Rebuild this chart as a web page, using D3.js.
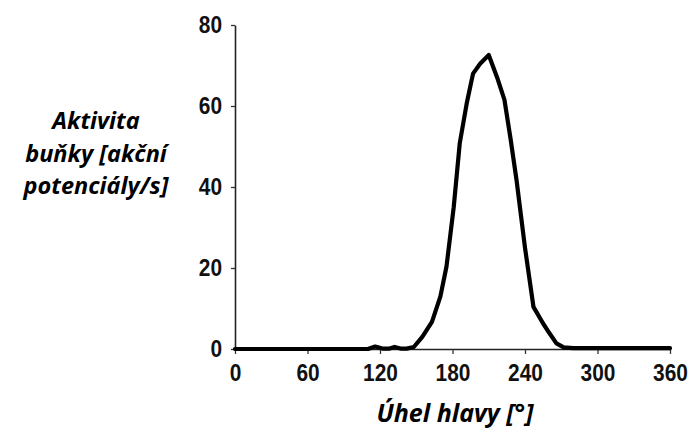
<!DOCTYPE html>
<html><head><meta charset="utf-8">
<script src="https://cdn.jsdelivr.net/npm/d3@7"></script>
<style>body{margin:0;background:#fff;} svg{display:block;}</style>
</head><body>
<svg id="chart" width="695" height="432"></svg>
<script>
const angles = [0, 20, 40, 60, 80, 100, 110, 116, 122, 128, 132, 137, 142, 148, 155, 163, 170, 175, 181, 186, 192, 197, 203, 210, 217, 223, 228, 233, 240, 247, 255, 260, 266, 272, 280, 300, 320, 340, 360];
const activity = [0, 0, 0, 0, 0, 0, 0, 0.6, 0.1, 0.1, 0.5, 0.1, 0.1, 0.5, 3, 6.7, 13, 20.3, 35, 50.8, 61, 68, 70.5, 72.6, 67, 61.5, 52, 41.7, 25, 10.4, 6.3, 4, 1.4, 0.4, 0.2, 0.2, 0.2, 0.2, 0.2];
const xTicks = [0, 60, 120, 180, 240, 300, 360];
const yTicks = [0, 20, 40, 60, 80];
const yTitleLines = ["Aktivita", "buňky [akční", "potenciály/s]"];
const xTitle = "Úhel hlavy [°]";

const svg = d3.select("#chart");
const x = d3.scaleLinear().domain([0, 360]).range([235, 670]);
const y = d3.scaleLinear().domain([0, 80]).range([349, 25]);

const gx = svg.append("g").attr("transform", `translate(0,${y(0)})`)
  .call(d3.axisBottom(x).tickValues(xTicks).tickSize(5).tickPadding(10).tickSizeOuter(0));
const gy = svg.append("g").attr("transform", `translate(${x(0)},0)`)
  .call(d3.axisLeft(y).tickValues(yTicks).tickSize(4).tickPadding(9).tickSizeOuter(0));
[gx, gy].forEach(g => {
  g.select(".domain").attr("stroke", "#222").attr("stroke-width", 1.6);
  g.selectAll(".tick line").attr("stroke", "#333").attr("stroke-width", 1.3);
  g.selectAll(".tick text").attr("fill", "#111")
    .style("font-family", "'Liberation Sans', Arial, sans-serif")
    .style("font-weight", "bold").style("font-size", "24px")
    .each(function() {
      const len = this.getComputedTextLength();
      d3.select(this).attr("textLength", len * 0.87).attr("lengthAdjust", "spacingAndGlyphs");
    });
});

svg.append("path")
  .datum(angles.map((a, i) => [a, activity[i]]))
  .attr("fill", "none").attr("stroke", "#000").attr("stroke-width", 4.2)
  .attr("stroke-linejoin", "round").attr("stroke-linecap", "round")
  .attr("d", d3.line().x(d => x(d[0])).y(d => y(d[1])));

const titleFont = "'Open Sans', Lato, sans-serif";
svg.append("text").attr("text-anchor", "middle")
  .style("font-family", titleFont).style("font-weight", "bold").style("font-style", "italic")
  .style("font-size", "23.5px").attr("fill", "#000")
  .selectAll("tspan").data(yTitleLines).join("tspan")
  .attr("x", 96).attr("y", (d, i) => 129 + i * 32.5).text(d => d);

svg.append("text").attr("text-anchor", "middle").attr("x", 455).attr("y", 422)
  .style("font-family", titleFont).style("font-weight", "bold").style("font-style", "italic")
  .style("font-size", "25px").attr("fill", "#000").text(xTitle);
</script>
</body></html>
